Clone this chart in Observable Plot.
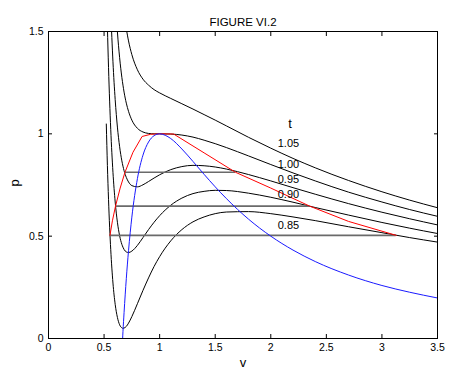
<!DOCTYPE html>
<html><head><meta charset="utf-8">
<script src="https://cdn.jsdelivr.net/npm/d3@7"></script>
<script src="https://cdn.jsdelivr.net/npm/@observablehq/plot@0.6"></script>
<style>body{margin:0;background:#fff}</style>
</head><body><div id="chart"></div>
<script>
const title = "FIGURE VI.2";
const xLabel = "v";
const yLabel = "p";
const xTicks = [0, 0.5, 1, 1.5, 2, 2.5, 3, 3.5];
const yTicks = [0, 0.5, 1, 1.5];

// isotherms: sampled volume grid and pressure for each temperature (null = off chart)
const vGrid = [0.52, 0.53, 0.54, 0.55, 0.56, 0.58, 0.60, 0.62, 0.64, 0.66, 0.67, 0.68, 0.70, 0.72, 0.75, 0.80, 0.85, 0.90, 0.95, 1.00, 1.10, 1.20, 1.30, 1.40, 1.50, 1.60, 1.80, 2.00, 2.20, 2.40, 2.70, 3.00, 3.25, 3.50];
const temps = [0.85, 0.90, 0.95, 1.00, 1.05];
const p085 = [1.048, 0.845, 0.680, 0.544, 0.434, 0.271, 0.167, 0.103, 0.067, 0.052, 0.050, 0.051, 0.059, 0.075, 0.107, 0.170, 0.235, 0.296, 0.352, 0.400, 0.477, 0.532, 0.570, 0.594, 0.610, 0.618, 0.620, 0.610, 0.594, 0.576, 0.546, 0.517, 0.493, 0.471];
const p090 = [1.762, 1.523, 1.325, 1.160, 1.022, 0.812, 0.667, 0.568, 0.502, 0.460, 0.446, 0.435, 0.423, 0.420, 0.427, 0.455, 0.493, 0.532, 0.568, 0.600, 0.651, 0.686, 0.708, 0.719, 0.724, 0.723, 0.710, 0.690, 0.666, 0.640, 0.603, 0.567, 0.539, 0.513];
const p095 = [null, null, null, 1.775, 1.610, 1.352, 1.167, 1.033, 0.937, 0.868, 0.842, 0.820, 0.787, 0.765, 0.747, 0.741, 0.751, 0.767, 0.784, 0.800, 0.825, 0.840, 0.846, 0.844, 0.838, 0.828, 0.801, 0.770, 0.737, 0.705, 0.659, 0.617, 0.585, 0.555];
const p100 = [null, null, null, null, null, 1.893, 1.667, 1.498, 1.372, 1.276, 1.238, 1.204, 1.150, 1.110, 1.067, 1.027, 1.009, 1.002, 1.000, 1.000, 0.999, 0.994, 0.984, 0.969, 0.952, 0.933, 0.892, 0.850, 0.809, 0.770, 0.715, 0.667, 0.630, 0.597];
const p105 = [null, null, null, null, null, null, null, null, null, null, null, 1.589, 1.514, 1.454, 1.387, 1.313, 1.267, 1.238, 1.216, 1.200, 1.173, 1.147, 1.121, 1.094, 1.067, 1.039, 0.983, 0.930, 0.880, 0.834, 0.772, 0.717, 0.676, 0.639];

// horizontal (equal-area) lines
const mxP = [0.504, 0.647, 0.812];
const mxV1 = [0.553, 0.603, 0.688];
const mxV2 = [3.128, 2.349, 1.683];

// red coexistence curve
const redV = [0.553, 0.575, 0.603, 0.645, 0.688, 0.760, 0.842, 0.920, 1.000, 1.126, 1.400, 1.683, 2.000, 2.349, 2.700, 3.128];
const redP = [0.504, 0.575, 0.647, 0.735, 0.812, 0.910, 0.987, 0.998, 1.000, 0.999, 0.907, 0.812, 0.735, 0.647, 0.572, 0.504];

// blue spinodal curve
const spinV = [0.667, 0.67, 0.68, 0.69, 0.70, 0.72, 0.75, 0.80, 0.85, 0.90, 0.95, 1.00, 1.05, 1.10, 1.20, 1.30, 1.40, 1.50, 1.60, 1.80, 2.00, 2.20, 2.40, 2.70, 3.00, 3.25, 3.50];
const spinP = [0.000, 0.033, 0.127, 0.213, 0.292, 0.429, 0.593, 0.781, 0.896, 0.960, 0.991, 1.000, 0.993, 0.977, 0.926, 0.865, 0.802, 0.741, 0.684, 0.583, 0.500, 0.432, 0.376, 0.310, 0.259, 0.226, 0.198];

// curve labels
const labelText = ["t", "1.05", "1.00", "0.95", "0.90", "0.85"];
const labelV = [2.174, 2.159, 2.159, 2.159, 2.159, 2.159];
const labelP = [1.049, 0.953, 0.852, 0.779, 0.705, 0.551];
const labelSize = [13, 11, 11, 11, 11, 11];

const isoP = [p085, p090, p095, p100, p105];
const isoRows = temps.flatMap((t, i) => vGrid.map((v, j) => ({t, v, p: isoP[i][j]})).filter(d => d.p != null));
const mxRows = mxP.map((p, i) => ({p, v1: mxV1[i], v2: mxV2[i]}));
const redRows = redV.map((v, i) => ({v, p: redP[i]}));
const spinRows = spinV.map((v, i) => ({v, p: spinP[i]}));
const labelRows = labelText.map((s, i) => ({s, v: labelV[i], p: labelP[i], size: labelSize[i]}));

const chart = Plot.plot({
  width: 469, height: 382,
  marginLeft: 48, marginRight: 32, marginTop: 31, marginBottom: 44,
  x: {domain: [0, 3.5]},
  y: {domain: [0, 1.5]},
  style: {fontFamily: "'Liberation Sans', Arial, Helvetica, sans-serif", fontSize: "10.5px", background: "#fff", color: "#000"},
  marks: [
    Plot.line(isoRows, {x: "v", y: "p", z: "t", stroke: "#000", strokeWidth: 1, curve: "monotone-x", clip: true}),
    Plot.ruleY(mxRows, {y: "p", x1: "v1", x2: "v2", stroke: "#6a6a6a", strokeWidth: 1.6}),
    Plot.line(redRows, {x: "v", y: "p", stroke: "#ff0000", strokeWidth: 1}),
    Plot.line(spinRows, {x: "v", y: "p", stroke: "#1a1aff", strokeWidth: 1, curve: "monotone-x", clip: true}),
    Plot.frame({stroke: "#000", strokeWidth: 1}),
    Plot.axisX({ticks: xTicks, tickSize: -4, tickPadding: 9.5, tickFormat: d => String(d), label: null}),
    Plot.axisX({anchor: "top", ticks: xTicks.slice(1, -1), tickSize: -4, tickFormat: () => "", label: null}),
    Plot.axisY({ticks: yTicks, tickSize: -4, tickPadding: 9, tickFormat: d => String(d), label: null}),
    Plot.axisY({anchor: "right", ticks: yTicks.slice(1, -1), tickSize: -4, tickFormat: () => "", label: null}),
    Plot.text(labelRows, {x: "v", y: "p", text: "s", fontSize: d => d.size, fill: "#000"}),
    Plot.text([title], {text: d => d, frameAnchor: "top", dy: -14, fontSize: 11.5, fill: "#000"}),
    Plot.text([xLabel], {text: d => d, frameAnchor: "bottom", dy: 28, fontSize: 13, fill: "#000"}),
    Plot.text([yLabel], {text: d => d, frameAnchor: "left", dx: -34, dy: 1.5, rotate: -90, fontSize: 13, fill: "#000"})
  ]
});
document.getElementById("chart").appendChild(chart);
</script>
</body></html>
